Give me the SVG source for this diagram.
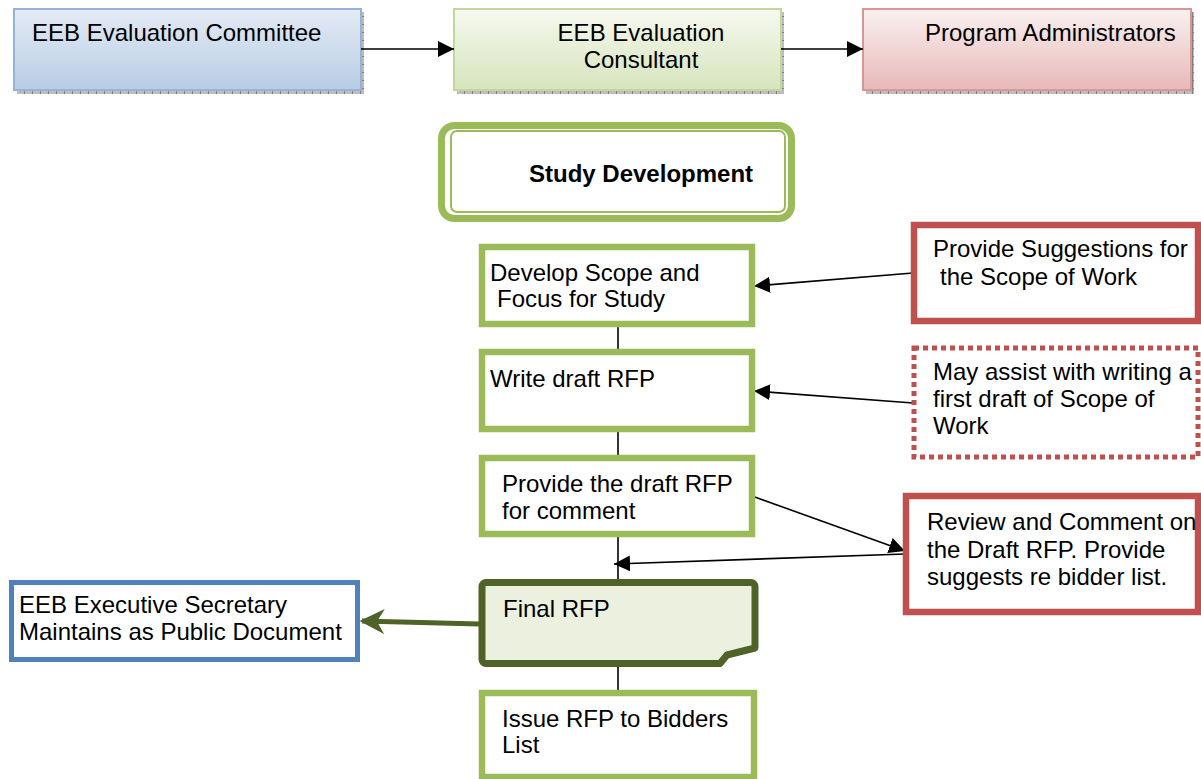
<svg xmlns="http://www.w3.org/2000/svg" width="1201" height="779" viewBox="0 0 1201 779">
<defs>
<linearGradient id="gBlue" x1="0" y1="0" x2="0" y2="1"><stop offset="0" stop-color="#e4ebf5"/><stop offset="1" stop-color="#b8cce4"/></linearGradient>
<linearGradient id="gGreen" x1="0" y1="0" x2="0" y2="1"><stop offset="0" stop-color="#f6f9ef"/><stop offset="1" stop-color="#d7e4bd"/></linearGradient>
<linearGradient id="gRed" x1="0" y1="0" x2="0" y2="1"><stop offset="0" stop-color="#faf0f0"/><stop offset="1" stop-color="#e6b9b8"/></linearGradient>
<pattern id="hatch" width="8" height="8" patternUnits="userSpaceOnUse"><rect width="8" height="8" fill="#bdbdbd"/><rect x="0" y="0" width="1" height="8" fill="#7f7f7f"/><rect x="0" y="0" width="8" height="1" fill="#7f7f7f"/></pattern>
<marker id="ah" viewBox="0 0 10 10" refX="10" refY="5" markerWidth="16" markerHeight="16" markerUnits="userSpaceOnUse" orient="auto"><path d="M0,0 L10,5 L0,10 z" fill="#000"/></marker>
<marker id="ahg" viewBox="0 0 10 10" refX="9" refY="5" markerWidth="5" markerHeight="5" orient="auto"><path d="M0,0 L10,5 L0,10 L3,5 z" fill="#4f6228"/></marker>
</defs>
<style>
text{font-family:"Liberation Sans",Arial,sans-serif;font-size:24px;fill:#000}
.b{font-weight:bold}
.shadow{fill:url(#hatch)}
.step{fill:#fff;stroke:#9bbb59;stroke-width:6.5}
.red{fill:#fff;stroke:#c0504d;stroke-width:6.5}
.conn{stroke:#000;stroke-width:1.6;fill:none}
</style>

<g id="committee">
<rect class="shadow" x="17" y="12" width="347" height="82"/>
<rect x="14" y="9" width="347" height="81" fill="url(#gBlue)" stroke="#95b3d7" stroke-width="2"/>
<text x="32" y="41">EEB Evaluation Committee</text>
</g>
<g id="consultant">
<rect class="shadow" x="457" y="12" width="327" height="82"/>
<rect x="454" y="9" width="327" height="81" fill="url(#gGreen)" stroke="#c3d69b" stroke-width="2"/>
<text x="641" y="41" text-anchor="middle">EEB Evaluation</text>
<text x="641" y="68" text-anchor="middle">Consultant</text>
</g>
<g id="administrators">
<rect class="shadow" x="866" y="12" width="328" height="82"/>
<rect x="863" y="9" width="328" height="81" fill="url(#gRed)" stroke="#d99694" stroke-width="2"/>
<text x="925" y="41">Program Administrators</text>
</g>

<g id="study-development">
<rect x="441.5" y="125.5" width="350" height="93" rx="13" fill="#fff" stroke="#9bbb59" stroke-width="7"/>
<rect x="451" y="131" width="334" height="81" rx="6" fill="none" stroke="#9bbb59" stroke-width="2"/>
<text class="b" x="529" y="182">Study Development</text>
</g>

<g id="connectors">
<line class="conn" x1="361" y1="49" x2="454" y2="49" marker-end="url(#ah)"/>
<line class="conn" x1="781" y1="49" x2="863" y2="49" marker-end="url(#ah)"/>
<line class="conn" x1="618" y1="327" x2="618" y2="349"/>
<line class="conn" x1="618" y1="432" x2="618" y2="456"/>
<line class="conn" x1="618" y1="537" x2="618" y2="580"/>
<line class="conn" x1="618" y1="667" x2="618" y2="690"/>
<line class="conn" x1="913" y1="273" x2="754" y2="286" marker-end="url(#ah)"/>
<line class="conn" x1="913" y1="403" x2="754" y2="391" marker-end="url(#ah)"/>
<line class="conn" x1="752" y1="496" x2="905" y2="551" marker-end="url(#ah)"/>
<line class="conn" x1="905" y1="554" x2="614" y2="564" marker-end="url(#ah)"/>
<line x1="479" y1="624" x2="362" y2="621" stroke="#4f6228" stroke-width="5" marker-end="url(#ahg)"/>
</g>

<g id="develop-scope">
<rect class="step" x="482" y="247" width="270" height="77"/>
<text x="490" y="281">Develop Scope and</text>
<text x="497" y="307">Focus for Study</text>
</g>
<g id="write-draft">
<rect class="step" x="482" y="352" width="270" height="77"/>
<text x="490" y="387">Write draft RFP</text>
</g>
<g id="provide-draft">
<rect class="step" x="482" y="458" width="270" height="76"/>
<text x="502" y="492">Provide the draft RFP</text>
<text x="502" y="519">for comment</text>
</g>
<g id="final-rfp">
<path d="M486,582.5 H751 a4,4 0 0 1 4,4 V648 L727,655 L720,663.5 H486 a4,4 0 0 1 -4,-4 V586.5 a4,4 0 0 1 4,-4 z" fill="#ebf1de" stroke="#4f6228" stroke-width="7" stroke-linejoin="round"/>
<text x="503" y="617">Final RFP</text>
</g>
<g id="issue-rfp">
<rect class="step" x="482" y="693" width="272" height="84"/>
<text x="502" y="727">Issue RFP to Bidders</text>
<text x="502" y="753">List</text>
</g>

<g id="exec-secretary">
<rect x="11.5" y="582.5" width="346" height="77" fill="#fff" stroke="#4f81bd" stroke-width="5"/>
<text x="19" y="613">EEB Executive Secretary</text>
<text x="19" y="640">Maintains as Public Document</text>
</g>

<g id="provide-suggestions">
<rect class="red" x="914" y="225" width="284" height="96"/>
<text x="933" y="257">Provide Suggestions for</text>
<text x="940" y="285">the Scope of Work</text>
</g>
<g id="may-assist">
<rect x="914" y="348" width="284" height="109" fill="#fff" stroke="#c0504d" stroke-width="5" stroke-dasharray="5,4"/>
<text x="933" y="380">May assist with writing a</text>
<text x="933" y="407">first draft of Scope of</text>
<text x="933" y="434">Work</text>
</g>
<g id="review-comment">
<rect class="red" x="906" y="496" width="292" height="116"/>
<text x="927" y="530">Review and Comment on</text>
<text x="927" y="558">the Draft RFP. Provide</text>
<text x="927" y="585">suggests re bidder list.</text>
</g>
</svg>
